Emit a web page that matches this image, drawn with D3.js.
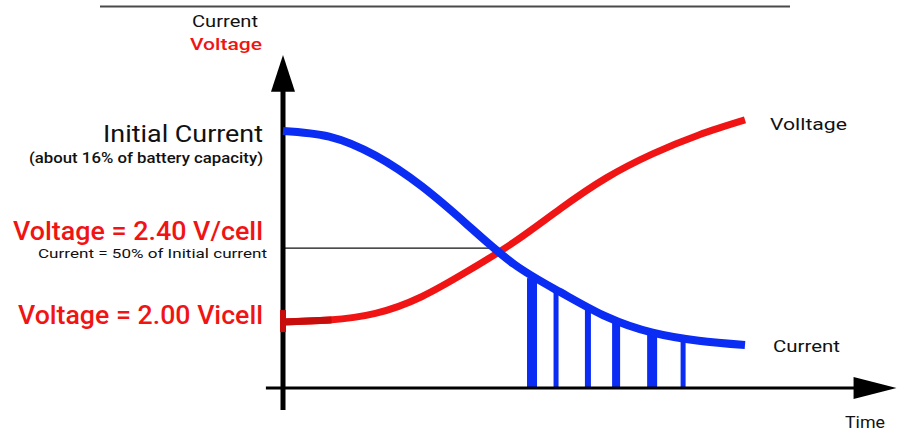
<!DOCTYPE html>
<html><head><meta charset="utf-8">
<script src="https://cdn.jsdelivr.net/npm/d3@7"></script>
<style>
html,body{margin:0;padding:0;background:#fff;}
svg{display:block;font-family:Roboto,"Noto Sans",sans-serif;}
</style></head>
<body><svg id="c" width="901" height="431"></svg>
<script>
// ---- data ----
const time = [0,1,2,3,4,5,6,7,8,9,10];
const current = [7.72,7.55,6.98,6.06,4.89,3.72,2.88,2.14,1.66,1.42,1.29];
const voltage = [1.98,2.04,2.24,2.74,3.51,4.38,5.38,6.31,7.03,7.60,8.05];
const pulseTimes = [5.39,5.91,6.60,7.21,7.99,8.66];
const pulseCurrent = [3.30,2.97,2.43,1.98,1.65,1.47];
const halfCurrentLevel = 4.2;
const halfCurrentEnd = 4.48;
const startVoltage = 1.98;
const labels = {
  yTop: "Current", yBottom: "Voltage",
  initial: "Initial Current", initialSub: "(about 16% of battery capacity)",
  v240: "Voltage = 2.40 V/cell", half: "Current = 50% of Initial current",
  v200: "Voltage = 2.00 Vicell",
  voltEnd: "Volltage", currEnd: "Current", xName: "Time"
};
// ---- styles ----
const pulseWidths = [10,5,6,8,10,5];
const BLUE = "#0b2cf2", RED = "#f01414", DARKRED = "#c80d0d";

const svg = d3.select("#c");
const x = d3.scaleLinear().domain([0,10]).range([283,745]);
const y = d3.scaleLinear().domain([0,10]).range([388,55]);

// top rule
svg.append("line").attr("x1",100).attr("x2",790).attr("y1",6.5).attr("y2",6.5)
  .attr("stroke","#4a4a4a").attr("stroke-width",2);

// half-current reference line
svg.append("line").attr("x1",x(0)).attr("x2",x(halfCurrentEnd))
  .attr("y1",y(halfCurrentLevel)).attr("y2",y(halfCurrentLevel))
  .attr("stroke","#111").attr("stroke-width",1.3);

// pulse bars
svg.append("g").selectAll("rect").data(pulseTimes).join("rect")
  .attr("x",(d,i)=>x(d)-pulseWidths[i]/2)
  .attr("width",(d,i)=>pulseWidths[i])
  .attr("y",(d,i)=>y(pulseCurrent[i]))
  .attr("height",(d,i)=>y(0)-y(pulseCurrent[i]))
  .attr("fill",BLUE);

// axes
const xAxisStart = -0.37, xAxisEnd = 12.35, xTip = 13.28;
const yAxisLow = -0.66, yAxisTop = 8.9, yTip = 10;
svg.append("line").attr("x1",x(xAxisStart)).attr("x2",x(xAxisEnd)+2)
  .attr("y1",y(0)).attr("y2",y(0)).attr("stroke","#000").attr("stroke-width",3);
svg.append("path").attr("d",`M${x(xAxisEnd)},${y(0)-11}L${x(xTip)},${y(0)}L${x(xAxisEnd)},${y(0)+11}Z`).attr("fill","#000");
svg.append("line").attr("x1",x(0)).attr("x2",x(0))
  .attr("y1",y(yAxisLow)).attr("y2",y(yAxisTop)-2).attr("stroke","#000").attr("stroke-width",5);
svg.append("path").attr("d",`M${x(0)-12},${y(yAxisTop)}L${x(0)},${y(yTip)}L${x(0)+12},${y(yAxisTop)}Z`).attr("fill","#000");

// curves
const line = (vals)=>d3.line().x((d,i)=>x(time[i])).y(d=>y(d)).curve(d3.curveNatural)(vals);
svg.append("path").attr("d",line(voltage)).attr("fill","none").attr("stroke",RED).attr("stroke-width",7);
svg.append("path").attr("d",line(current)).attr("fill","none").attr("stroke",BLUE).attr("stroke-width",8);
// darker start of voltage + start tick
svg.append("path").attr("d",d3.line().x(d=>x(d[0])).y(d=>y(d[1]))([[0,startVoltage],[1.05,2.04]]))
  .attr("stroke",DARKRED).attr("stroke-width",7).attr("fill","none");
svg.append("rect").attr("x",x(0)-3).attr("width",6)
  .attr("y",y(startVoltage)-12).attr("height",22).attr("fill",DARKRED);

// text
function t(str,xp,yp,opts){
  const e = svg.append("text").attr("x",xp).attr("y",yp).text(str)
    .attr("font-size",opts.size).attr("fill",opts.fill||"#111")
    .attr("font-weight",opts.weight||400).attr("text-anchor",opts.anchor||"start");
  if(opts.len) e.attr("textLength",opts.len).attr("lengthAdjust","spacingAndGlyphs");
  return e;
}
t(labels.yTop,258,27,{size:17,anchor:"end",len:66});
t(labels.yBottom,262,50,{size:17,anchor:"end",fill:RED,weight:500,len:72});
t(labels.initial,263,142,{size:23,anchor:"end",len:160});
t(labels.initialSub,263,163,{size:14,anchor:"end",weight:500,len:234});
t(labels.v240,263,240,{size:25,anchor:"end",fill:RED,weight:500,len:250});
t(labels.half,267,258,{size:13,anchor:"end",weight:400,len:229});
t(labels.v200,263,324,{size:25,anchor:"end",fill:RED,weight:500,len:245});
t(labels.voltEnd,770,130,{size:17,len:77});
t(labels.currEnd,773,352,{size:17,len:67});
t(labels.xName,845,428,{size:17,len:40});
</script></body></html>
